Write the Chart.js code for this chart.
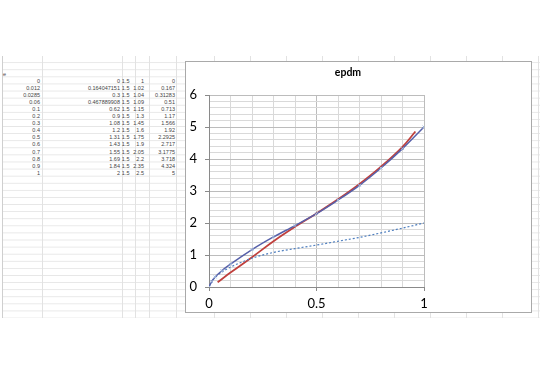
<!DOCTYPE html>
<html>
<head>
<meta charset="utf-8">
<script src="https://cdn.jsdelivr.net/npm/chart.js@4.4.1/dist/chart.umd.min.js"></script>
<style>
  body { margin: 0; background: #fff; width: 540px; height: 375px; overflow: hidden; position: relative; }
  #sheet { position: absolute; left: 2px; top: 56px; width: 538px; height: 262px;
    border-left: 1px solid #cfcfcf;
    background-image: linear-gradient(to bottom, transparent 6.1px, #e6e6e6 6.1px);
    background-size: 100% 7.1px; }
  .col { position: absolute; top: 56px; height: 262px; width: 1px; background: #e2e2e2; }
  .cell { position: absolute; font: 5.5px Arial, sans-serif; color: #444; line-height: 7px; height: 7px; white-space: nowrap; }
  #box { position: absolute; left: 185px; top: 61px; width: 345px; height: 250px; border: 1px solid #a9a9a9; background: #fff; z-index: 2; }
</style>
</head>
<body>
<div id="sheet"></div>
<div id="box"><canvas id="myChart" width="345" height="250"></canvas></div>
<script>
'use strict';

// spreadsheet columns
const eValues = [0, 0.012, 0.0285, 0.06, 0.1, 0.2, 0.3, 0.4, 0.5, 0.6, 0.7, 0.8, 0.9, 1];
const colB = [0, 0.164047151, 0.3, 0.467889908, 0.62, 0.9, 1.08, 1.2, 1.31, 1.43, 1.55, 1.69, 1.84, 2];
const colC = [1.5, 1.5, 1.5, 1.5, 1.5, 1.5, 1.5, 1.5, 1.5, 1.5, 1.5, 1.5, 1.5, 1.5];
const colD = [1, 1.02, 1.04, 1.09, 1.15, 1.3, 1.45, 1.6, 1.75, 1.9, 2.05, 2.2, 2.35, 2.5];
const colE = [0, 0.167, 0.31283, 0.51, 0.713, 1.17, 1.566, 1.92, 2.2925, 2.717, 3.1775, 3.718, 4.324, 5];

// trendline
const trendX = [0.04, 0.1, 0.2, 0.3, 0.4, 0.5, 0.6, 0.7, 0.8, 0.9, 0.96];
const trendY = [0.15, 0.45, 0.93, 1.43, 1.88, 2.3, 2.74, 3.22, 3.76, 4.38, 4.86];

const xTickLabels = [0, 0.5, 1];
const yTickLabels = [0, 1, 2, 3, 4, 5, 6];

// sheet grid + text
const colLines = [42, 122, 135, 149, 176, 214, 250, 286, 322, 358, 394, 430, 466, 502, 538];
for (let i = 0; i < colLines.length; i++) {
  const d = document.createElement('div');
  d.className = 'col';
  d.style.left = colLines[i] + 'px';
  document.body.appendChild(d);
}

function addCell(text, right, centerY) {
  const d = document.createElement('div');
  d.className = 'cell';
  d.textContent = text;
  d.style.right = (540 - right) + 'px';
  d.style.top = (centerY - 3.5) + 'px';
  document.body.appendChild(d);
}

const e = document.createElement('div');
e.className = 'cell';
e.textContent = 'e';
e.style.left = '3px';
e.style.top = '70.5px';
document.body.appendChild(e);

const columns = [[eValues, 40], [colB, 120], [colC, 129.5], [colD, 144], [colE, 175]];
for (let i = 0; i < eValues.length; i++) {
  const y = 81 + 7.1 * i;
  for (let c = 0; c < columns.length; c++) {
    addCell(String(columns[c][0][i]), columns[c][1], y);
  }
}

function points(xs, ys) {
  const out = [];
  for (let i = 0; i < xs.length; i++) {
    out.push({ x: xs[i], y: ys[i] });
  }
  return out;
}

function isOn(v, list) {
  for (let i = 0; i < list.length; i++) {
    if (Math.abs(v - list[i]) < 1e-9) return true;
  }
  return false;
}

const font = { family: 'Lato, "Open Sans", sans-serif', size: 13 };

const ctx = document.getElementById('myChart').getContext('2d');
new Chart(ctx, {
  type: 'scatter',
  data: {
    datasets: [
      {
        label: 'e / col E',
        data: points(eValues, colE),
        showLine: true,
        borderColor: '#5660aa',
        borderWidth: 1.5,
        cubicInterpolationMode: 'monotone',
        pointStyle: 'crossRot',
        pointRadius: 2,
        pointBorderColor: '#9fb7dc',
        pointBorderWidth: 1
      },
      {
        label: 'e / col B',
        data: points(eValues, colB),
        showLine: true,
        borderColor: '#4f7fbf',
        borderWidth: 1.2,
        borderDash: [2, 2],
        cubicInterpolationMode: 'monotone',
        pointRadius: 0
      },
      {
        label: 'trend',
        data: points(trendX, trendY),
        showLine: true,
        borderColor: '#c0403d',
        borderWidth: 1.8,
        tension: 0.4,
        pointRadius: 0
      }
    ]
  },
  options: {
    responsive: false,
    animation: false,
    devicePixelRatio: 1,
    layout: { padding: { top: 0, left: 0, right: 21, bottom: 0 } },
    plugins: {
      legend: { display: false },
      tooltip: { enabled: false },
      title: {
        display: true,
        text: 'epdm',
        color: '#000',
        font: { family: 'Lato, "Open Sans", sans-serif', size: 10.5, weight: 'bold', lineHeight: 1.2 },
        padding: { top: 4, bottom: 16.4 }
      }
    },
    scales: {
      x: {
        type: 'linear',
        min: 0,
        max: 1,
        afterFit: function (s) { s.height = 25; },
        ticks: {
          stepSize: 0.1,
          autoSkip: false,
          maxRotation: 0,
          padding: 5,
          color: '#000',
          font: font,
          callback: function (v) { return isOn(v, xTickLabels) ? String(Math.round(v * 10) / 10) : ''; }
        },
        grid: {
          color: function (c) { return isOn(c.tick.value, [0.5, 1]) ? '#bcbcbc' : '#d9d9d9'; },
          tickLength: 4,
          tickColor: function (c) { return isOn(c.tick.value, xTickLabels) ? '#8a8a8a' : 'rgba(0,0,0,0)'; }
        },
        border: { color: '#8a8a8a' }
      },
      y: {
        min: 0,
        max: 6,
        afterFit: function (s) { s.width = 23; },
        ticks: {
          stepSize: 0.2,
          autoSkip: false,
          padding: 8,
          color: '#000',
          font: font,
          callback: function (v) { return isOn(v, yTickLabels) ? String(Math.round(v)) : ''; }
        },
        grid: {
          color: function (c) { return isOn(c.tick.value, yTickLabels) ? '#bcbcbc' : '#d9d9d9'; },
          tickLength: 4,
          tickColor: function (c) { return isOn(c.tick.value, yTickLabels) ? '#8a8a8a' : 'rgba(0,0,0,0)'; }
        },
        border: { color: '#8a8a8a' }
      },
      y2: {
        position: 'right',
        min: 0,
        max: 1,
        afterFit: function (s) { s.width = 86; },
        grid: { display: false },
        ticks: { display: false },
        border: { display: false }
      }
    }
  }
});
</script>
</body>
</html>
